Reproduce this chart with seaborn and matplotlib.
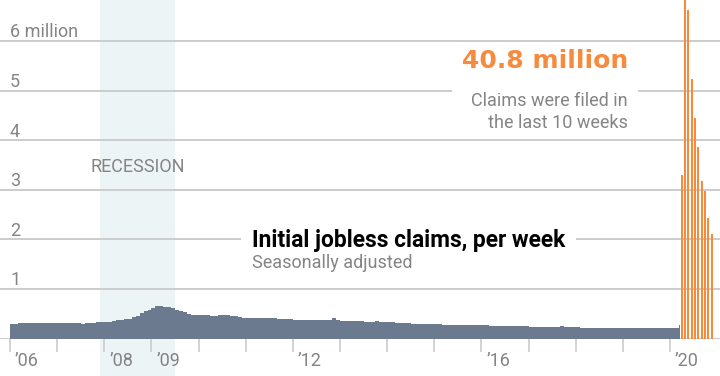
import matplotlib
matplotlib.use("Agg")
import matplotlib.pyplot as plt
import matplotlib.transforms as mtransforms
from matplotlib.patches import Rectangle
import numpy as np
import pandas as pd
import seaborn as sns

# monthly initial claims (millions), Jan 2006 .. Feb 2020
claims_by_year = {
    2006: [0.30, 0.30, 0.31, 0.31, 0.32, 0.31, 0.31, 0.31, 0.31, 0.31, 0.31, 0.31],
    2007: [0.31, 0.32, 0.31, 0.32, 0.31, 0.31, 0.30, 0.31, 0.31, 0.32, 0.33, 0.33],
    2008: [0.33, 0.34, 0.36, 0.37, 0.38, 0.39, 0.40, 0.43, 0.46, 0.52, 0.55, 0.57],
    2009: [0.62, 0.66, 0.66, 0.64, 0.63, 0.61, 0.57, 0.56, 0.54, 0.50, 0.48, 0.47],
    2010: [0.47, 0.47, 0.47, 0.46, 0.46, 0.47, 0.47, 0.47, 0.46, 0.45, 0.43, 0.42],
    2011: [0.42, 0.42, 0.42, 0.42, 0.42, 0.42, 0.41, 0.41, 0.40, 0.40, 0.40, 0.39],
    2012: [0.38, 0.38, 0.38, 0.38, 0.38, 0.38, 0.38, 0.38, 0.38, 0.38, 0.42, 0.38],
    2013: [0.36, 0.35, 0.35, 0.35, 0.35, 0.35, 0.34, 0.34, 0.33, 0.35, 0.34, 0.34],
    2014: [0.34, 0.33, 0.32, 0.32, 0.31, 0.31, 0.30, 0.30, 0.29, 0.29, 0.29, 0.29],
    2015: [0.29, 0.29, 0.28, 0.28, 0.28, 0.28, 0.27, 0.27, 0.27, 0.27, 0.27, 0.27],
    2016: [0.27, 0.27, 0.26, 0.26, 0.26, 0.26, 0.26, 0.26, 0.25, 0.25, 0.25, 0.25],
    2017: [0.24, 0.24, 0.24, 0.24, 0.24, 0.24, 0.24, 0.24, 0.26, 0.23, 0.23, 0.23],
    2018: [0.23, 0.22, 0.22, 0.22, 0.22, 0.22, 0.21, 0.21, 0.21, 0.21, 0.22, 0.22],
    2019: [0.22, 0.22, 0.21, 0.21, 0.21, 0.22, 0.21, 0.21, 0.21, 0.21, 0.22, 0.22],
    2020: [0.21, 0.21],
}
# first two weeks of March 2020
march_2020_weeks = [0.21, 0.28]

# the last 10 weeks, Mar 21 .. May 23 2020 (millions)
covid_weeks = ["Mar 21", "Mar 28", "Apr 4", "Apr 11", "Apr 18",
               "Apr 25", "May 2", "May 9", "May 16", "May 23"]
covid_claims = [3.31, 6.87, 6.62, 5.24, 4.44, 3.87, 3.18, 2.98, 2.44, 2.12]

recession = (2007 + 11 / 12, 2009 + 6 / 12)
y_levels = [0, 1, 2, 3, 4, 5, 6]
y_labels = ["", "1", "2", "3", "4", "5", "6 million"]
tick_years = list(range(2006, 2021))
labeled_years = [2006, 2008, 2009, 2012, 2016, 2020]

# build the gray series as (date, value)
rows = []
for yr, vals in claims_by_year.items():
    for m, v in enumerate(vals):
        rows.append((yr + m / 12, v))
for k, v in enumerate(march_2020_weeks):
    rows.append((2020 + 2 / 12 + k * 7 / 365, v))
df = pd.DataFrame(rows, columns=["date", "claims"])
end_date = 2020 + 2 / 12 + len(march_2020_weeks) * 7 / 365
df_step = pd.concat([df, pd.DataFrame({"date": [end_date], "claims": [df["claims"].iloc[-1]]})])

# the last weeks are stretched out on the chart
bar_start = 2020.248
bar_step = 0.0707
bar_width = 0.045
covid = pd.DataFrame({"week": covid_weeks, "claims": covid_claims})
covid["pos"] = bar_start + np.arange(len(covid)) * bar_step

sns.set_theme(style="white")
plt.rcParams["font.family"] = ["Roboto", "DejaVu Sans"]

GRAY_TXT = "#848484"
GRID = "#cccccc"
SLATE = "#6c7a90"
ORANGE = "#f68b3e"
LBL = 13.0

PX_YR = 47.143
PX_M = 49.6
BASE = 338.7


def xd(px):
    return 2006 + (px - 10) / PX_YR


def yd(px):
    return (BASE - px) / PX_M


fig = plt.figure(figsize=(7.2, 3.76), dpi=100)
ax = fig.add_axes([0, (376 - BASE) / 376, 1, BASE / 376])
ax.set_xlim(xd(0), xd(720))
ax.set_ylim(0, yd(0))

ax.axvspan(*recession, ymin=-0.12, ymax=1, color="#edf4f5", lw=0, zorder=0.2, clip_on=False)

ax.fill_between(df_step["date"], df_step["claims"], step="post", color=SLATE, lw=0, zorder=2)
ax.bar(covid["pos"], covid["claims"], width=bar_width, color=ORANGE, lw=0, zorder=2)

ax.set_axisbelow(True)
ax.set_yticks(y_levels)
ax.yaxis.grid(True, color=GRID, lw=1.4)
ax.tick_params(axis="y", left=False, labelleft=False)
for v, lab in zip(y_levels, y_labels):
    if lab:
        ax.text(10 / 720, v + 0.075, lab, transform=ax.get_yaxis_transform(),
                ha="left", va="baseline", fontsize=LBL, color=GRAY_TXT)

ax.set_xticks(tick_years, labels=[("\u2019%02d" % (y % 100)) if y in labeled_years else "" for y in tick_years])
ax.tick_params(axis="x", bottom=True, length=9.6, width=1.2, color=GRID, pad=0,
               labelsize=LBL, labelcolor=GRAY_TXT)
shift = mtransforms.ScaledTranslation(5 / 100, 0, fig.dpi_scale_trans)
for lab in ax.get_xticklabels():
    lab.set_horizontalalignment("left")
    lab.set_transform(lab.get_transform() + shift)
for s in ax.spines.values():
    s.set_visible(False)

ax.text(sum(recession) / 2, yd(171.7), "RECESSION", ha="center", va="baseline",
        fontsize=LBL, color=GRAY_TXT)

ax.text(xd(252), yd(246.7), "Initial jobless claims, per week", ha="left", va="baseline",
        fontsize=16.4, fontweight="bold", color="black", zorder=5,
        bbox=dict(facecolor="white", edgecolor="none", pad=8))
ax.text(xd(252), yd(267.5), "Seasonally adjusted", ha="left", va="baseline",
        fontsize=LBL, color=GRAY_TXT, zorder=5)

# white panel behind the annotation
ax.add_patch(Rectangle((xd(452), yd(134)), xd(638) - xd(452), yd(46) - yd(134),
                       facecolor="white", edgecolor="none", zorder=4))
ax.text(xd(628), yd(67.7), "40.8 million", ha="right", va="baseline",
        fontsize=18, fontweight="bold", color=ORANGE, zorder=5, family="DejaVu Sans")
ax.text(xd(628), yd(128), "Claims were filed in\nthe last 10 weeks",
        ha="right", va="baseline", fontsize=LBL, color=GRAY_TXT,
        linespacing=1.3, zorder=5)

fig.savefig("out.png", dpi=100)
